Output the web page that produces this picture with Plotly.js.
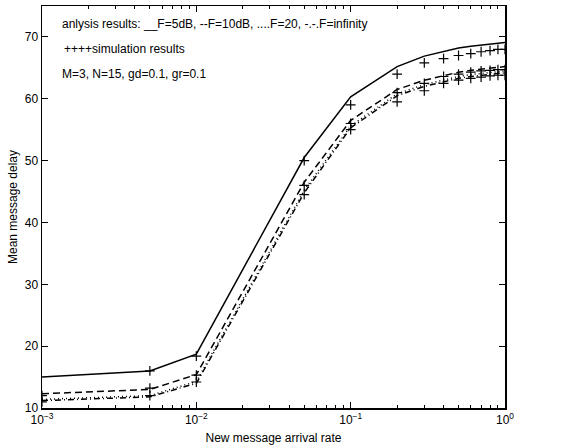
<!DOCTYPE html>
<html>
<head>
<meta charset="utf-8">
<script src="https://cdn.plot.ly/plotly-3.0.1.min.js"></script>
<style>html,body{margin:0;padding:0;background:#fff;}#chart{width:576px;height:448px;}</style>
</head>
<body>
<div id="chart"></div>
<script>
var rates = [0.001, 0.005, 0.01, 0.05, 0.1, 0.2, 0.3, 0.4, 0.5, 0.6, 0.7, 0.8, 0.9, 1.0];
var anaF5   = [15.0, 16.0, 18.7, 50.5, 60.3, 65.2, 66.9, 67.7, 68.2, 68.5, 68.7, 68.9, 69.0, 69.1];
var anaF10  = [12.3, 13.0, 15.4, 46.5, 56.5, 61.5, 63.0, 63.8, 64.3, 64.6, 64.8, 65.0, 65.1, 65.2];
var anaF20  = [11.4, 12.0, 14.3, 45.2, 55.6, 60.8, 62.3, 63.1, 63.6, 63.9, 64.1, 64.3, 64.4, 64.5];
var anaFinf = [11.2, 11.8, 14.0, 44.8, 55.3, 60.5, 62.0, 62.8, 63.3, 63.6, 63.8, 64.0, 64.1, 64.2];
var simF5   = [null, 16.0, 18.4, 50.0, 59.0, 64.0, 65.8, 66.5, 67.0, 67.3, 67.6, 67.8, 68.0, 68.0];
var simF10  = [12.0, 13.2, 15.3, 46.0, 56.0, 61.0, 62.5, 63.6, 64.0, 64.3, 64.5, 64.6, 64.7, 64.7];
var simFinf = [11.0, 12.0, 14.2, 44.5, 55.0, 59.5, 61.3, 62.5, 63.0, 63.3, 63.5, 63.7, 63.8, 63.8];
var xTickVals = [0.001, 0.01, 0.1, 1];
var xTickText = ['10<sup>\u22123</sup>', '10<sup>\u22122</sup>', '10<sup>\u22121</sup>', '10<sup>0</sup>'];
var notes = ['anlysis results: __F=5dB, --F=10dB, ....F=20, -.-.F=infinity', '++++simulation results', 'M=3, N=15, gd=0.1, gr=0.1'];

function lineTrace(y, dash) {
  return {x: rates, y: y, mode: 'lines', type: 'scatter', line: {color: '#000', width: 1.5, dash: dash}, hoverinfo: 'skip'};
}
function simTrace(y) {
  return {x: rates, y: y, mode: 'markers', type: 'scatter',
    marker: {symbol: 'cross-thin-open', size: 7, color: '#000', line: {color: '#000', width: 1.2}}, hoverinfo: 'skip'};
}
var data = [
  lineTrace(anaF5, 'solid'), lineTrace(anaF10, '7px,4px'), lineTrace(anaF20, '1px,3px'), lineTrace(anaFinf, '6px,3px,1px,3px'),
  simTrace(simF5), simTrace(simF10), simTrace(simFinf)
];
var fam = 'Liberation Sans, Arial, sans-serif';
var layout = {
  width: 576, height: 448,
  margin: {l: 42, r: 71, t: 6, b: 40},
  paper_bgcolor: '#fff', plot_bgcolor: '#fff',
  showlegend: false,
  font: {family: fam, size: 12, color: '#000'},
  xaxis: {
    type: 'log', range: [-3, 0],
    tickvals: xTickVals, ticktext: xTickText,
    ticks: 'inside', ticklen: 6, tickcolor: '#000', tickwidth: 1,
    minor: {ticks: 'inside', ticklen: 3, tickcolor: '#000', dtick: 'D1', showgrid: false},
    showline: true, linecolor: '#000', linewidth: 1.5, mirror: 'allticks',
    showgrid: false, zeroline: false,
    tickfont: {family: fam, size: 12, color: '#000'},
    title: {text: 'New message arrival rate', standoff: 7, font: {family: fam, size: 12, color: '#000'}}
  },
  yaxis: {
    range: [10, 75], tickvals: [10, 20, 30, 40, 50, 60, 70],
    ticks: 'inside', ticklen: 6, tickcolor: '#000', tickwidth: 1,
    showline: true, linecolor: '#000', linewidth: 1.5, mirror: 'allticks',
    showgrid: false, zeroline: false,
    tickfont: {family: fam, size: 12, color: '#000'},
    title: {text: 'Mean message delay', standoff: 4, font: {family: fam, size: 12, color: '#000'}}
  },
  annotations: [
    {xref: 'paper', yref: 'paper', x: 0.038, y: 0.955, xanchor: 'left', yanchor: 'middle', text: notes[0], showarrow: false, font: {family: fam, size: 12, color: '#000'}},
    {xref: 'paper', yref: 'paper', x: 0.043, y: 0.893, xanchor: 'left', yanchor: 'middle', text: notes[1], showarrow: false, font: {family: fam, size: 12, color: '#000'}},
    {xref: 'paper', yref: 'paper', x: 0.038, y: 0.831, xanchor: 'left', yanchor: 'middle', text: notes[2], showarrow: false, font: {family: fam, size: 12, color: '#000'}}
  ]
};
Plotly.newPlot('chart', data, layout, {staticPlot: true, displayModeBar: false});
</script>
</body>
</html>
